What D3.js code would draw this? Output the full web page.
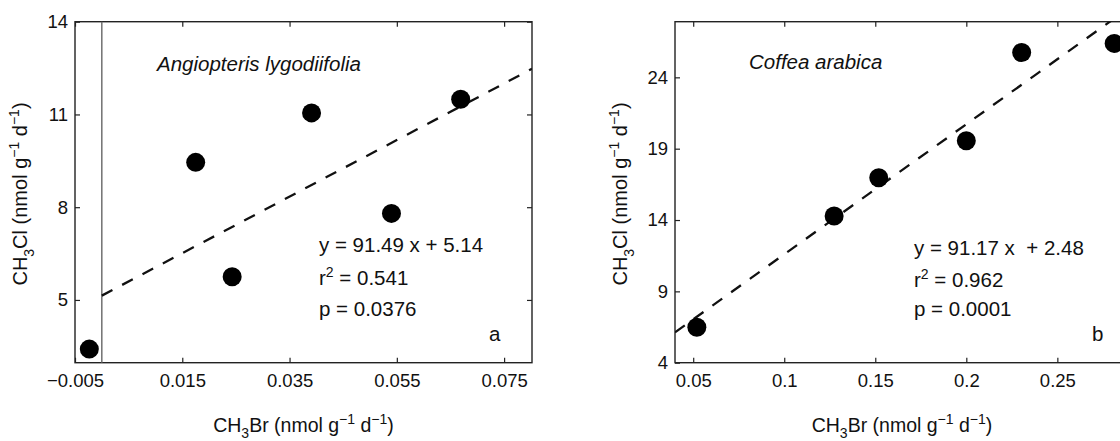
<!DOCTYPE html>
<html>
<head>
<meta charset="utf-8">
<script src="https://cdn.jsdelivr.net/npm/d3@7/dist/d3.min.js"></script>
<style>
  html, body { margin: 0; padding: 0; background: #fff; }
  svg { display: block; }
  text { font-family: "Liberation Sans", Arial, Helvetica, sans-serif; fill: #111; white-space: pre; }
</style>
</head>
<body>
<svg id="chart" width="1120" height="441"></svg>
<script>
// ---- Data ----
const aX = [-0.00233, 0.0175, 0.0243, 0.0391, 0.054, 0.0669];
const aY = [3.41, 9.45, 5.75, 11.05, 7.80, 11.49];
const bX = [0.052, 0.1274, 0.1519, 0.2, 0.2304, 0.2812];
const bY = [6.48, 14.28, 16.96, 19.56, 25.74, 26.38];

const aTicksX = [-0.005, 0.015, 0.035, 0.055, 0.075];
const aTickLabelsX = ["\u22120.005", "0.015", "0.035", "0.055", "0.075"];
const aTicksY = [5, 8, 11, 14];
const bTicksX = [0.05, 0.1, 0.15, 0.2, 0.25];
const bTickLabelsX = ["0.05", "0.1", "0.15", "0.2", "0.25"];
const bTicksY = [4, 9, 14, 19, 24];

const aFit = [91.49, 5.14];   // slope, intercept
const bFit = [91.17, 2.48];
const aFitRange = [0, 0.0802];
const bFitRange = [0.04, 0.291];

const aDomainX = [-0.005, 0.0802], aDomainY = [2.97, 14];
const bDomainX = [0.04, 0.291],    bDomainY = [4, 27.9];

const aTitle = "Angiopteris lygodiifolia";
const bTitle = "Coffea arabica";
const aStats = ["y = 91.49 x + 5.14", "0.541", "p = 0.0376"];
const bStats = ["y = 91.17 x  + 2.48", "0.962", "p = 0.0001"];

// ---- Drawing ----
const svg = d3.select("#chart");
const plotTop = 21.7, plotBottom = 362.7;

function rich(sel, parts) {
  let cur = 0;
  parts.forEach(p => {
    const t = sel.append("tspan").text(p[0]);
    const target = p[1] || 0;
    if (target !== cur) { t.attr("dy", target - cur); cur = target; }
    if (p[2]) t.style("font-size", p[2]);
  });
}

function panel(opt) {
  const g = svg.append("g");
  const x = d3.scaleLinear().domain(opt.dx).range([opt.left, opt.right]);
  const y = d3.scaleLinear().domain(opt.dy).range([plotBottom, plotTop]);

  const clipId = "clip" + opt.id;
  svg.append("clipPath").attr("id", clipId).append("rect")
    .attr("x", opt.left).attr("y", plotTop)
    .attr("width", opt.right - opt.left).attr("height", plotBottom - plotTop);

  const tickLen = 5;
  const ax = g.append("g").attr("transform", `translate(0,${plotBottom})`)
    .call(d3.axisBottom(x).tickValues(opt.tx).tickFormat((d, i) => opt.txl[i])
      .tickSizeInner(-tickLen).tickSizeOuter(0).tickPadding(11));
  const axT = g.append("g").attr("transform", `translate(0,${plotTop})`)
    .call(d3.axisTop(x).tickValues(opt.tx).tickFormat("")
      .tickSizeInner(-tickLen).tickSizeOuter(0));
  const ay = g.append("g").attr("transform", `translate(${opt.left},0)`)
    .call(d3.axisLeft(y).tickValues(opt.ty).tickFormat(d3.format("d"))
      .tickSizeInner(-tickLen).tickSizeOuter(0).tickPadding(7));
  const ayR = g.append("g").attr("transform", `translate(${opt.right},0)`)
    .call(d3.axisRight(y).tickValues(opt.ty).tickFormat("")
      .tickSizeInner(-tickLen).tickSizeOuter(0));
  [ax, axT, ay, ayR].forEach(a => {
    a.select(".domain").remove();
    a.selectAll("line").attr("stroke", "#222").attr("stroke-width", 1.2);
    a.selectAll("text").style("font-size", "18.5px").attr("fill", "#111");
  });

  g.append("rect").attr("x", opt.left).attr("y", plotTop)
    .attr("width", opt.right - opt.left).attr("height", plotBottom - plotTop)
    .attr("fill", "none").attr("stroke", "#222").attr("stroke-width", 1.4);

  if (opt.zeroLine) {
    g.append("line").attr("x1", x(0)).attr("x2", x(0))
      .attr("y1", plotTop).attr("y2", plotBottom)
      .attr("stroke", "#666").attr("stroke-width", 1.4);
  }

  const fitPts = opt.fr.map(v => [v, opt.fit[0] * v + opt.fit[1]]);
  g.append("path").attr("clip-path", `url(#${clipId})`)
    .attr("d", d3.line().x(d => x(d[0])).y(d => y(d[1]))(fitPts))
    .attr("fill", "none").attr("stroke", "#111").attr("stroke-width", 2.3)
    .attr("stroke-dasharray", "12,11");

  g.selectAll("circle.pt").data(opt.xs.map((v, i) => [v, opt.ys[i]]))
    .enter().append("circle").attr("class", "pt")
    .attr("cx", d => x(d[0])).attr("cy", d => y(d[1])).attr("r", 9.5)
    .attr("fill", "#000");

  g.append("text").attr("x", opt.titleX).attr("y", opt.titleY)
    .style("font-size", "20.5px").style("font-style", "italic").text(opt.title);

  const sx = opt.statX;
  g.append("text").attr("x", sx).attr("y", opt.statY[0]).style("font-size", "20.5px").text(opt.stats[0]);
  const r2 = g.append("text").attr("x", sx).attr("y", opt.statY[1]).style("font-size", "20.5px");
  rich(r2, [["r", 0], ["2", -8, "14px"], [" = " + opt.stats[1], 0]]);
  g.append("text").attr("x", sx).attr("y", opt.statY[2]).style("font-size", "20.5px").text(opt.stats[2]);

  g.append("text").attr("x", opt.letterX).attr("y", 341).style("font-size", "20.5px").text(opt.letter);

  const xl = g.append("text").attr("x", (opt.left + opt.right) / 2 + opt.xlShift).attr("y", 432)
    .attr("text-anchor", "middle").style("font-size", "19.5px");
  rich(xl, [["CH", 0], ["3", 6, "14px"], ["Br (nmol g", 0], ["\u22121", -8, "14px"], [" d", 0], ["\u22121", -8, "14px"], [")", 0]]);

  const yl = g.append("text").attr("transform", `translate(${opt.left - 48},194) rotate(-90)`)
    .attr("text-anchor", "middle").style("font-size", "20px");
  rich(yl, [["CH", 0], ["3", 7, "14px"], ["Cl (nmol g", 0], ["\u22121", -8, "14px"], [" d", 0], ["\u22121", -8, "14px"], [")", 0]]);
}

panel({ id: "a", left: 75, right: 532, dx: aDomainX, dy: aDomainY,
  tx: aTicksX, txl: aTickLabelsX, ty: aTicksY, xs: aX, ys: aY,
  fit: aFit, fr: aFitRange, zeroLine: true,
  title: aTitle, titleX: 157, titleY: 71,
  stats: aStats, statX: 319, statY: [252, 285, 316],
  letter: "a", letterX: 489, xlShift: 0 });

panel({ id: "b", left: 675, right: 1132, dx: bDomainX, dy: bDomainY,
  tx: bTicksX, txl: bTickLabelsX, ty: bTicksY, xs: bX, ys: bY,
  fit: bFit, fr: bFitRange, zeroLine: false,
  title: bTitle, titleX: 749, titleY: 69,
  stats: bStats, statX: 914, statY: [255, 287, 316],
  letter: "b", letterX: 1092, xlShift: -1.5 });
</script>
</body>
</html>
